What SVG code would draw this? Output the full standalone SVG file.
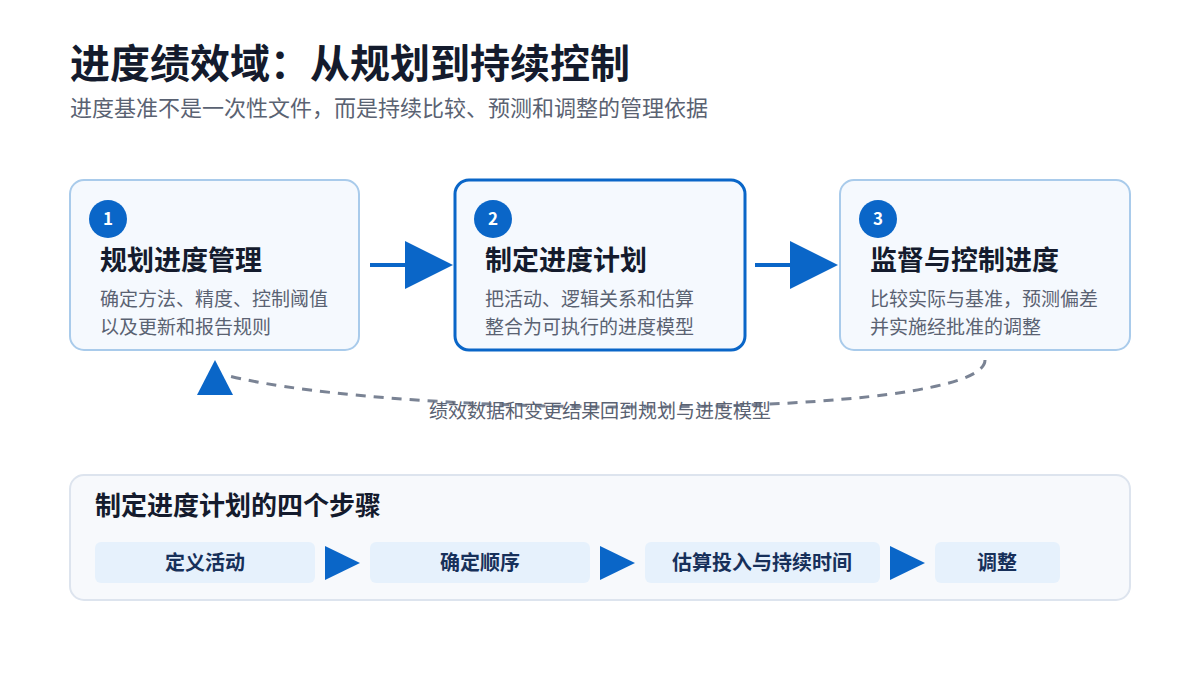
<svg xmlns="http://www.w3.org/2000/svg" width="1200" height="675" viewBox="0 0 1200 675">
<style>
text{font-family:"Noto Sans CJK SC","Noto Sans",sans-serif}
.card{fill:#f5f9fe;stroke:#a9cbeb;stroke-width:2}
.num{fill:#0a66c8}
.numt{fill:#fff;font-size:17px;font-weight:700;text-anchor:middle}
.h{fill:#141b2d;font-size:27px;font-weight:700}
.d{fill:#5a6272;font-size:19px}
.step{fill:#e6f1fc}
.st{fill:#17305a;font-size:20px;font-weight:700;text-anchor:middle}
.tri{fill:#0a66c8}
</style>
<rect width="1200" height="675" fill="#fff"/>
<text x="70" y="78" style="font-size:40px;font-weight:700;fill:#141b2d">进度绩效域：从规划到持续控制</text>
<text x="70" y="116" style="font-size:22px;fill:#5a6272">进度基准不是一次性文件，而是持续比较、预测和调整的管理依据</text>
<g id="node1"><rect class="card" x="70" y="180" width="289" height="170" rx="14"/><circle class="num" cx="108" cy="219" r="19"/><text class="numt" x="108" y="225">1</text><text class="h" x="100" y="270">规划进度管理</text><text class="d" x="100" y="306">确定方法、精度、控制阈值</text><text class="d" x="100" y="334">以及更新和报告规则</text></g>
<g id="node2"><rect x="455" y="180" width="290" height="170" rx="14" fill="#f5f9fe" stroke="#0a66c8" stroke-width="3"/><circle class="num" cx="493" cy="219" r="19"/><text class="numt" x="493" y="225">2</text><text class="h" x="485" y="270">制定进度计划</text><text class="d" x="485" y="306">把活动、逻辑关系和估算</text><text class="d" x="485" y="334">整合为可执行的进度模型</text></g>
<g id="node3"><rect class="card" x="840" y="180" width="290" height="170" rx="14"/><circle class="num" cx="878" cy="219" r="19"/><text class="numt" x="878" y="225">3</text><text class="h" x="870" y="270">监督与控制进度</text><text class="d" x="870" y="306">比较实际与基准，预测偏差</text><text class="d" x="870" y="334">并实施经批准的调整</text></g>
<g id="connectors">
<line x1="370" y1="265" x2="410" y2="265" stroke="#0a66c8" stroke-width="4"/><polygon class="tri" points="405,241 453,265 405,289"/>
<line x1="755" y1="265" x2="795" y2="265" stroke="#0a66c8" stroke-width="4"/><polygon class="tri" points="790,241 838,265 790,289"/>
<path d="M985,360 C985,420 400,420 225,375" fill="none" stroke="#7a8394" stroke-width="3" stroke-dasharray="10,8"/>
<polygon class="tri" points="215,360 197,395 233,395"/>
<text x="600" y="418" text-anchor="middle" style="font-size:19px;fill:#5a6272">绩效数据和变更结果回到规划与进度模型</text>
</g>
<g id="steps">
<rect x="70" y="475" width="1060" height="125" rx="14" fill="#f7f9fc" stroke="#dde4ee" stroke-width="2"/>
<text x="95" y="515" style="font-size:26px;font-weight:700;fill:#141b2d">制定进度计划的四个步骤</text>
<rect class="step" x="95" y="542" width="220" height="41" rx="6"/><text class="st" x="205" y="570">定义活动</text>
<polygon class="tri" points="325,546 360,563 325,580"/>
<rect class="step" x="370" y="542" width="220" height="41" rx="6"/><text class="st" x="480" y="570">确定顺序</text>
<polygon class="tri" points="600,546 635,563 600,580"/>
<rect class="step" x="645" y="542" width="235" height="41" rx="6"/><text class="st" x="762" y="570">估算投入与持续时间</text>
<polygon class="tri" points="890,546 925,563 890,580"/>
<rect class="step" x="935" y="542" width="125" height="41" rx="6"/><text class="st" x="997" y="570">调整</text>
</g>
</svg>
